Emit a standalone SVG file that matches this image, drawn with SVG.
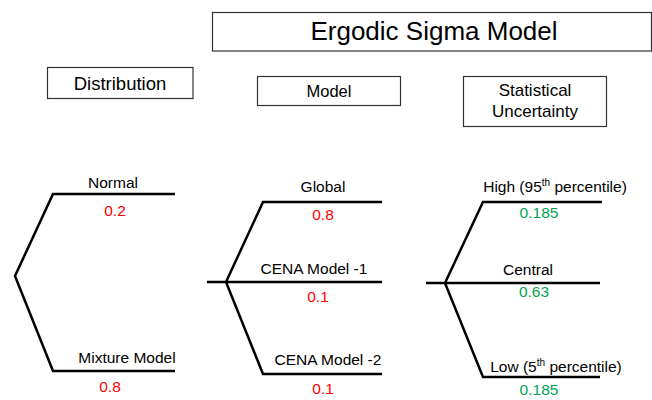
<svg xmlns="http://www.w3.org/2000/svg" width="652" height="400" viewBox="0 0 652 400">
<style>
text{font-family:"Liberation Sans",Arial,sans-serif;fill:#000}
.box{fill:#fff;stroke:#333;stroke-width:1.2}
.lbl{font-size:15.5px;text-anchor:middle}
.red{fill:#ff0000;font-size:15.5px;text-anchor:middle}
.grn{fill:#00a550;font-size:15.5px;text-anchor:middle}
.br{fill:none;stroke:#000;stroke-width:2.5;stroke-linejoin:miter}
</style>
<rect width="652" height="400" fill="#fff"/>
<g id="title"><rect class="box" x="212.5" y="12.5" width="439" height="38.5"/><text x="434" y="40" font-size="26" text-anchor="middle">Ergodic Sigma Model</text></g>
<g id="distribution"><rect class="box" x="47.5" y="67.5" width="145.5" height="31"/><text x="120" y="90" font-size="18.5" text-anchor="middle">Distribution</text></g>
<g id="model"><rect class="box" x="257.5" y="76.5" width="143" height="29"/><text x="329" y="97" font-size="16.5" text-anchor="middle">Model</text></g>
<g id="stat"><rect class="box" x="463.5" y="76.5" width="143" height="50"/><text x="535" y="96" font-size="17" text-anchor="middle">Statistical</text><text x="535" y="117" font-size="17" text-anchor="middle">Uncertainty</text></g>
<g id="connectors">
<path class="br" d="M175,194 H53 L15,276 L53,371 H175"/>
<path class="br" d="M382,202 H263 L226,282 L263,374 H382 M207,282 H382"/>
<path class="br" d="M602,202 H483 L445,283 L483,377 H600 M426,283 H600"/>
</g>
<g id="normal"><text class="lbl" x="113" y="188">Normal</text><text class="red" x="115" y="216">0.2</text></g>
<g id="mixture"><text class="lbl" x="127" y="363">Mixture Model</text><text class="red" x="110" y="392">0.8</text></g>
<g id="global"><text class="lbl" x="323" y="192">Global</text><text class="red" x="323" y="220">0.8</text></g>
<g id="cena1"><text class="lbl" x="314" y="274">CENA Model -1</text><text class="red" x="318" y="302">0.1</text></g>
<g id="cena2"><text class="lbl" x="328" y="365">CENA Model -2</text><text class="red" x="323" y="394">0.1</text></g>
<g id="high"><text class="lbl" x="555" y="192">High (95<tspan font-size="10" dy="-6">th</tspan><tspan dy="6"> percentile)</tspan></text><text class="grn" x="539" y="218">0.185</text></g>
<g id="central"><text class="lbl" x="528" y="275">Central</text><text class="grn" x="534" y="297">0.63</text></g>
<g id="low"><text class="lbl" x="556" y="372">Low (5<tspan font-size="10" dy="-6">th</tspan><tspan dy="6"> percentile)</tspan></text><text class="grn" x="539" y="395">0.185</text></g>
</svg>
